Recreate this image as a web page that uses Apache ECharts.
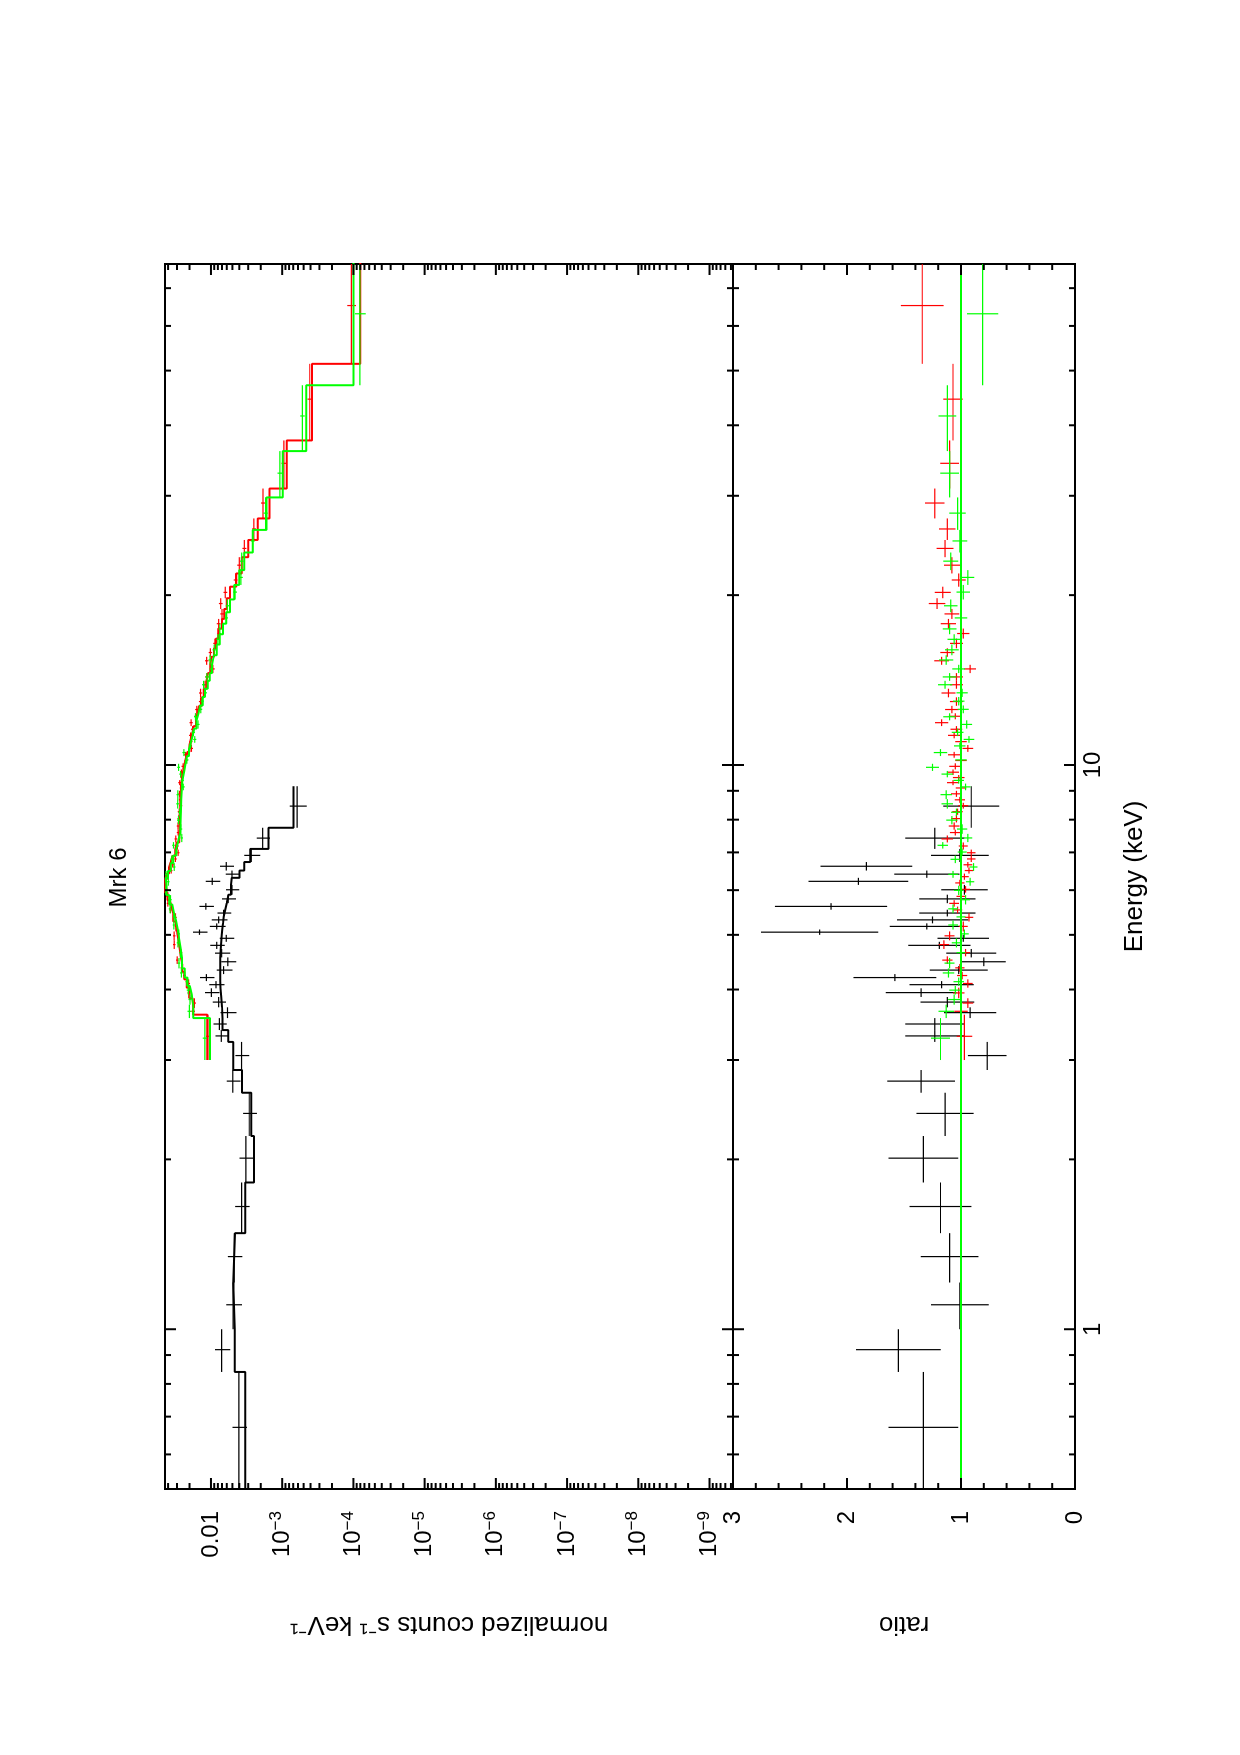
<!DOCTYPE html>
<html>
<head>
<meta charset="utf-8">
<title>Mrk 6</title>
<script src="https://cdn.jsdelivr.net/npm/echarts@6/dist/echarts.min.js"></script>
<style>
  html, body { margin: 0; padding: 0; background: #fff; overflow: hidden; }
  /* the XSPEC plot is landscape; it is drawn upright and turned onto the portrait page */
  #chart {
    position: absolute; left: 0; top: 0;
    width: 1755px; height: 1240px;
    transform-origin: 0 0;
    transform: translateY(1755px) rotate(-90deg);
  }
</style>
</head>
<body>
<div id="chart"></div>
<script>
// ---- axes ----
const E_MIN = 0.521, E_MAX = 77.25
const COUNTS_MIN = 4.68e-10, COUNTS_MAX = 0.0442
const RATIO_MIN = 0, RATIO_MAX = 3
const ratioUnity = 1

const energyLabels = [1, 10]
const energyMajor = [1, 10]
const energyMinor = [0.6, 0.7, 0.8, 0.9, 2, 3, 4, 5, 6, 7, 8, 9, 20, 30, 40, 50, 60, 70]
const countsMajor = [1e-2, 1e-3, 1e-4, 1e-5, 1e-6, 1e-7, 1e-8, 1e-9]
// [base, exponent] as printed by XSPEC
const countsLabels = [['0.01', ''], ['10', '−3'], ['10', '−4'], ['10', '−5'], ['10', '−6'], ['10', '−7'], ['10', '−8'], ['10', '−9']]
const countsDecades = [1e-10, 1e-9, 1e-8, 1e-7, 1e-6, 1e-5, 1e-4, 1e-3, 1e-2]
const minorSteps = [2, 3, 4, 5, 6, 7, 8, 9]
const ratioMajor = [0, 1, 2, 3]
const ratioMinor = [0.2, 0.4, 0.6, 0.8, 1.2, 1.4, 1.6, 1.8, 2.2, 2.4, 2.6, 2.8]

// ---- black spectrum (soft band) ----
const blackEdges = [0.5, 0.84, 1.0, 1.21, 1.48, 1.82, 2.2, 2.625, 2.88, 3.23, 3.39, 3.56, 3.72, 3.88,
  4.02, 4.14, 4.26, 4.40, 4.56, 4.72, 4.86, 5.00, 5.11, 5.24, 5.39, 5.54, 5.69, 5.89, 6.13, 6.31,
  6.5, 6.73, 7.1, 7.74, 9.17]
const blackFlux = [4.06e-3, 7.08e-3, 4.87e-3, 4.71e-3, 3.72e-3, 3.24e-3, 2.90e-3, 4.94e-3, 3.72e-3,
  7.16e-3, 7.62e-3, 5.86e-3, 7.8e-3, 9.87e-3, 8.5e-3, 1.16e-2, 6.65e-3, 5.8e-3, 7.08e-3, 8.3e-3,
  6.1e-3, 1.45e-2, 8.3e-3, 7.8e-3, 6.65e-3, 1.18e-2, 5.73e-3, 5.07e-3, 9.6e-3, 5.07e-3, 6.1e-3,
  2.72e-3, 1.88e-3, 6.18e-4]
const blackModel = [3.29e-3, 4.65e-3, 4.88e-3, 4.59e-3, 3.29e-3, 2.49e-3, 2.72e-3, 3.67e-3, 4.88e-3,
  5.73e-3, 6.9e-3, 7.0e-3, 7.2e-3, 7.33e-3, 7.38e-3, 7.4e-3, 7.4e-3, 7.4e-3, 7.3e-3, 7.2e-3,
  7.08e-3, 6.97e-3, 6.8e-3, 6.63e-3, 6.32e-3, 6.02e-3, 5.68e-3, 5.25e-3, 5.09e-3, 3.98e-3, 3.42e-3,
  2.81e-3, 1.56e-3, 6.93e-4]
const blackRatio = [1.33, 1.55, 1.01, 1.10, 1.18, 1.33, 1.14, 1.35, 0.77, 1.23, 1.23, 0.92, 1.12, 1.35,
  1.17, 1.58, 1.02, 0.80, 0.91, 1.19, 0.98, 2.24, 1.30, 1.25, 1.12, 2.14, 1.12, 0.97, 1.90, 1.30,
  1.83, 1.01, 1.23, 0.91]
const blackRelErr = [0.23, 0.24, 0.25, 0.23, 0.23, 0.23, 0.22, 0.22, 0.22, 0.21, 0.21, 0.25, 0.21, 0.23,
  0.24, 0.23, 0.25, 0.24, 0.24, 0.23, 0.23, 0.23, 0.25, 0.25, 0.22, 0.23, 0.22, 0.21, 0.23, 0.22,
  0.22, 0.25, 0.21, 0.27]

// ---- red spectrum (FPMA) ----
const redEdges = [3.0, 3.61, 3.71, 3.86, 4.03, 4.17, 4.30, 4.44, 4.58, 4.72, 4.89, 5.07, 5.28, 5.46,
  5.61, 5.76, 5.94, 6.10, 6.26, 6.42, 6.58, 6.73, 6.90, 7.08, 7.29, 7.50, 7.68, 7.91, 8.16, 8.37,
  8.57, 8.78, 9.00, 9.21, 9.40, 9.60, 9.82, 10.07, 10.3, 10.55, 10.85, 11.15, 11.42, 11.72, 12.05,
  12.35, 12.73, 13.18, 13.65, 14.1, 14.55, 15.05, 15.55, 16.1, 16.75, 17.45, 18.15, 18.9, 19.75,
  20.7, 21.85, 23.35, 25.05, 27.35, 30.9, 37.6, 51.4, 79.0]
const redFlux = [0.0110, 0.0178, 0.0171, 0.0204, 0.0206, 0.0235, 0.0257, 0.0298, 0.0264, 0.0328,
  0.0329, 0.0310, 0.0315, 0.0370, 0.0403, 0.0407, 0.0420, 0.0440, 0.0404, 0.0362, 0.0345, 0.0316,
  0.0289, 0.0296, 0.0312, 0.0289, 0.0290, 0.0283, 0.0279, 0.0264, 0.0271, 0.0276, 0.0263, 0.0275,
  0.0256, 0.0260, 0.0246, 0.0224, 0.0227, 0.0188, 0.0191, 0.0193, 0.0181, 0.0190, 0.0163, 0.0158,
  0.0140, 0.0140, 0.0121, 0.0114, 0.0094, 0.0115, 0.0102, 0.0088, 0.0077, 0.0078, 0.0070, 0.0073,
  0.0063, 0.0045, 0.0040, 0.0034, 0.0025, 0.00186, 0.00095, 0.00041, 0.000107]
const redModel = [0.0113, 0.0178, 0.0182, 0.0200, 0.0219, 0.0237, 0.0254, 0.0266, 0.0275, 0.0285,
  0.0299, 0.0316, 0.0339, 0.0359, 0.0380, 0.0407, 0.0437, 0.0440, 0.0417, 0.0389, 0.0367, 0.0347,
  0.0318, 0.0302, 0.0279, 0.0275, 0.0274, 0.0272, 0.0271, 0.0269, 0.0268, 0.0265, 0.0263, 0.0257,
  0.0251, 0.0243, 0.0234, 0.0224, 0.0214, 0.0200, 0.0191, 0.0182, 0.0174, 0.0162, 0.0155, 0.0146,
  0.0135, 0.0126, 0.0116, 0.0110, 0.0102, 0.0098, 0.0091, 0.0085, 0.0079, 0.0070, 0.0065, 0.0060,
  0.0054, 0.0044, 0.0037, 0.0030, 0.0022, 0.00151, 0.00086, 0.00038, 0.000080]
const redRatio = [0.97, 1.00, 0.94, 1.02, 0.94, 0.99, 1.01, 1.12, 0.96, 1.15, 1.10, 0.98, 0.93, 1.03,
  1.06, 1.00, 0.96, 1.01, 0.97, 0.93, 0.94, 0.91, 0.91, 0.98, 1.12, 1.05, 1.06, 1.04, 1.03, 0.98,
  1.01, 1.04, 1.00, 1.07, 1.02, 1.07, 1.05, 1.00, 1.06, 0.94, 1.00, 1.06, 1.04, 1.17, 1.05, 1.08,
  1.04, 1.11, 1.04, 1.04, 0.92, 1.17, 1.12, 1.04, 0.98, 1.11, 1.08, 1.21, 1.16, 1.02, 1.08, 1.14,
  1.12, 1.23, 1.10, 1.07, 1.34]
const redRelErr = [0.07, 0.06, 0.05, 0.05, 0.045, 0.045,
  0.04, 0.04, 0.04, 0.04, 0.04, 0.04, 0.04, 0.04, 0.04, 0.04, 0.04, 0.04, 0.04, 0.04, 0.04, 0.04, 0.04, 0.04,
  0.045, 0.045, 0.045, 0.045, 0.045, 0.045, 0.045, 0.045, 0.045,
  0.05, 0.05, 0.05, 0.05, 0.05, 0.05, 0.05, 0.05, 0.05, 0.05, 0.05,
  0.055, 0.055, 0.055, 0.055, 0.055, 0.055, 0.055, 0.055, 0.055, 0.055, 0.055,
  0.06, 0.06, 0.06, 0.06, 0.06, 0.065, 0.065, 0.065, 0.07, 0.075, 0.08, 0.14]

// ---- green spectrum (FPMB) ----
const greenEdges = [3.0, 3.56, 3.76, 3.92, 4.06, 4.20, 4.36, 4.55, 4.75, 4.93, 5.11, 5.30, 5.46, 5.66,
  5.88, 6.11, 6.31, 6.49, 6.7, 6.91, 7.11, 7.30, 7.55, 7.85, 8.12, 8.37, 8.7, 9.02, 9.27, 9.51, 9.76,
  10.05, 10.37, 10.67, 10.95, 11.25, 11.6, 12.0, 12.35, 12.75, 13.2, 13.65, 14.1, 14.55, 15.05,
  15.65, 16.35, 17.05, 17.8, 18.65, 19.65, 20.85, 22.15, 23.8, 26.1, 29.8, 36.0, 47.1, 79.0]
const greenFlux = [0.0122, 0.0201, 0.0197, 0.0208, 0.0218, 0.0260, 0.0281, 0.0268, 0.0291, 0.0283,
  0.0332, 0.0330, 0.0375, 0.0370, 0.0428, 0.0397, 0.0428, 0.0328, 0.0355, 0.0305, 0.0336, 0.0257,
  0.0265, 0.0286, 0.0275, 0.0293, 0.0292, 0.0245, 0.0252, 0.0267, 0.0285, 0.0218, 0.0240, 0.0194,
  0.0169, 0.0177, 0.0152, 0.0165, 0.0139, 0.0133, 0.0120, 0.0127, 0.0114, 0.0099, 0.0103, 0.0090,
  0.0080, 0.0075, 0.0061, 0.0059, 0.0046, 0.0038, 0.0037, 0.0026, 0.00171, 0.00108, 0.00052, 0.000081]
const greenModel = [0.0103, 0.0178, 0.0186, 0.0198, 0.0214, 0.0234, 0.0255, 0.0268, 0.0280, 0.0292,
  0.0310, 0.0330, 0.0350, 0.0385, 0.0420, 0.0432, 0.0400, 0.0368, 0.0338, 0.0308, 0.0290, 0.0273,
  0.0268, 0.0265, 0.0264, 0.0262, 0.0258, 0.0255, 0.0247, 0.0238, 0.0228, 0.0218, 0.0203, 0.0192,
  0.0182, 0.0172, 0.0160, 0.0150, 0.0142, 0.0130, 0.0121, 0.0111, 0.0104, 0.0097, 0.0091, 0.0083,
  0.0075, 0.0068, 0.0061, 0.0054, 0.0047, 0.0040, 0.0034, 0.0026, 0.00166, 0.00098, 0.00046, 0.000100]
const greenRatio = [1.18, 1.13, 1.06, 1.05, 1.02, 1.11, 1.10, 1.00, 1.04, 0.97, 1.07, 1.00, 1.07, 0.96,
  1.02, 0.92, 1.07, 0.89, 1.05, 0.99, 1.16, 0.94, 0.99, 1.08, 1.04, 1.12, 1.13, 0.96, 1.02, 1.12,
  1.25, 1.00, 1.18, 1.01, 0.93, 1.03, 0.95, 1.10, 0.98, 1.02, 0.99, 1.14, 1.10, 1.02, 1.13, 1.08,
  1.06, 1.10, 1.00, 1.09, 0.98, 0.94, 1.09, 1.01, 1.03, 1.10, 1.12, 0.81]
const greenRelErr = [0.07, 0.06, 0.05, 0.05, 0.045, 0.045,
  0.04, 0.04, 0.04, 0.04, 0.04, 0.04, 0.04, 0.04, 0.04, 0.04, 0.04, 0.04, 0.04, 0.04, 0.04, 0.04,
  0.045, 0.045, 0.045, 0.045, 0.045, 0.045, 0.045, 0.045, 0.045,
  0.05, 0.05, 0.05, 0.05, 0.05, 0.05, 0.05, 0.05, 0.05, 0.05,
  0.055, 0.055, 0.055, 0.055, 0.055, 0.055, 0.055, 0.055, 0.055,
  0.06, 0.06, 0.06, 0.065, 0.07, 0.075, 0.07, 0.17]

const FONT = '"Liberation Sans", Helvetica, Arial, sans-serif'
const BLACK = '#000000', RED = '#ff0000', GREEN = '#00ff00'

const countsMinor = []
countsDecades.forEach((d) => minorSteps.forEach((k) => countsMinor.push(d * k)))

// inward frame ticks on both sides of a panel
const tickSeries = (grid, dim, values, len) => {
  const ref = grid === 0 ? [1, 1e-5] : [1, ratioUnity]
  return {
    type: 'custom',
    xAxisIndex: grid,
    yAxisIndex: grid,
    silent: true,
    clip: false,
    z: 20,
    data: values.map((v) => (dim === 'x' ? [v, ref[1]] : [ref[0], v])),
    renderItem(params, api) {
      const cs = params.coordSys
      const p = api.coord([api.value(0), api.value(1)])
      const style = { stroke: BLACK, lineWidth: 2 }
      if (dim === 'x') {
        if (p[0] < cs.x - 0.5 || p[0] > cs.x + cs.width + 0.5) return null
        return {
          type: 'group',
          children: [
            { type: 'line', shape: { x1: p[0], y1: cs.y, x2: p[0], y2: cs.y + len }, style },
            { type: 'line', shape: { x1: p[0], y1: cs.y + cs.height, x2: p[0], y2: cs.y + cs.height - len }, style },
          ],
        }
      }
      if (p[1] < cs.y - 0.5 || p[1] > cs.y + cs.height + 0.5) return null
      return {
        type: 'group',
        children: [
          { type: 'line', shape: { x1: cs.x, y1: p[1], x2: cs.x + len, y2: p[1] }, style },
          { type: 'line', shape: { x1: cs.x + cs.width, y1: p[1], x2: cs.x + cs.width - len, y2: p[1] }, style },
        ],
      }
    },
  }
}

// data points: bin width across energy, error along the value axis
const crossSeries = (grid, color, edges, vals, relErr, z) => ({
  type: 'custom',
  xAxisIndex: grid,
  yAxisIndex: grid,
  silent: true,
  clip: true,
  z,
  data: vals.map((v, i) => [
    (edges[i] + edges[i + 1]) / 2, v, edges[i], edges[i + 1], v * (1 - relErr[i]), v * (1 + relErr[i]),
  ]),
  renderItem(params, api) {
    const c = api.coord([api.value(0), api.value(1)])
    const l = api.coord([api.value(2), api.value(1)])
    const r = api.coord([api.value(3), api.value(1)])
    const b = api.coord([api.value(0), api.value(4)])
    const t = api.coord([api.value(0), api.value(5)])
    const style = { stroke: color, lineWidth: 1.2 }
    return {
      type: 'group',
      children: [
        { type: 'line', shape: { x1: l[0], y1: c[1], x2: r[0], y2: c[1] }, style },
        { type: 'line', shape: { x1: c[0], y1: b[1], x2: c[0], y2: t[1] }, style },
      ],
    }
  },
})

// folded model as a histogram over the same bins
const stepLine = (color, edges, model, z) => {
  const pts = []
  model.forEach((m, i) => {
    pts.push([edges[i], m], [edges[i + 1], m])
  })
  return {
    type: 'line',
    xAxisIndex: 0,
    yAxisIndex: 0,
    data: pts,
    symbol: 'none',
    silent: true,
    clip: true,
    z,
    lineStyle: { color, width: 2 },
    itemStyle: { color },
  }
}

const labelStyle = { color: BLACK, fontSize: 24, fontFamily: FONT }
const nameStyle = { color: BLACK, fontSize: 26, fontFamily: FONT }
const hidden = { show: false }

const countsLabel = (v) => {
  const i = countsMajor.findIndex((c) => Math.abs(Math.log10(c) - Math.log10(v)) < 0.01)
  if (i < 0) return ''
  const [base, exp] = countsLabels[i]
  return exp ? `{base|${base}}{sup|${exp}}` : `{base|${base}}`
}

const option = {
  animation: false,
  backgroundColor: '#ffffff',
  title: {
    text: 'Mrk 6',
    left: 'center',
    top: 102,
    textStyle: { color: BLACK, fontSize: 24, fontWeight: 'normal', fontFamily: FONT },
  },
  grid: [
    { left: 266, right: 264, top: 165, height: 568, show: true, borderColor: BLACK, borderWidth: 2,
      backgroundColor: 'transparent', outerBoundsMode: 'none' },
    { left: 266, right: 264, top: 733, height: 342, show: true, borderColor: BLACK, borderWidth: 2,
      backgroundColor: 'transparent', outerBoundsMode: 'none' },
  ],
  xAxis: [
    {
      gridIndex: 0, type: 'log', min: E_MIN, max: E_MAX,
      axisLine: hidden, axisTick: hidden, axisLabel: hidden, splitLine: hidden,
    },
    {
      gridIndex: 1, type: 'log', min: E_MIN, max: E_MAX,
      axisLine: hidden, axisTick: hidden, splitLine: hidden,
      axisLabel: { ...labelStyle, customValues: energyLabels, margin: 6, formatter: (v) => String(Math.round(v)) },
      name: 'Energy (keV)', nameLocation: 'middle', nameGap: 47, nameTextStyle: nameStyle,
    },
  ],
  yAxis: [
    {
      gridIndex: 0, type: 'log', min: COUNTS_MIN, max: COUNTS_MAX,
      axisLine: hidden, axisTick: hidden, splitLine: hidden,
      axisLabel: {
        ...labelStyle,
        customValues: countsMajor,
        margin: 22,
        formatter: countsLabel,
        rich: {
          base: { fontSize: 24, fontFamily: FONT, color: BLACK, lineHeight: 28 },
          sup: { fontSize: 17, fontFamily: FONT, color: BLACK, verticalAlign: 'top', lineHeight: 18 },
        },
      },
      name: 'normalized counts s⁻¹ keV⁻¹', nameLocation: 'middle', nameRotate: 90, nameGap: 122,
      nameTextStyle: nameStyle,
    },
    {
      gridIndex: 1, type: 'value', min: RATIO_MIN, max: RATIO_MAX, interval: 1,
      axisLine: hidden, axisTick: hidden, splitLine: hidden,
      axisLabel: { ...labelStyle, margin: 22 },
      name: 'ratio', nameLocation: 'middle', nameRotate: 90, nameGap: 122, nameTextStyle: nameStyle,
    },
  ],
  series: [
    crossSeries(0, BLACK, blackEdges, blackFlux, blackRelErr, 2),
    stepLine(BLACK, blackEdges, blackModel, 3),
    crossSeries(0, RED, redEdges, redFlux, redRelErr, 4),
    stepLine(RED, redEdges, redModel, 5),
    crossSeries(0, GREEN, greenEdges, greenFlux, greenRelErr, 6),
    stepLine(GREEN, greenEdges, greenModel, 7),

    crossSeries(1, BLACK, blackEdges, blackRatio, blackRelErr, 2),
    crossSeries(1, RED, redEdges, redRatio, redRelErr, 4),
    crossSeries(1, GREEN, greenEdges, greenRatio, greenRelErr, 6),
    {
      type: 'line', xAxisIndex: 1, yAxisIndex: 1, silent: true, symbol: 'none', z: 7,
      data: [[E_MIN, ratioUnity], [E_MAX, ratioUnity]],
      lineStyle: { color: GREEN, width: 2 },
    },

    tickSeries(0, 'x', energyMajor, 11),
    tickSeries(0, 'x', energyMinor, 6),
    tickSeries(1, 'x', energyMajor, 11),
    tickSeries(1, 'x', energyMinor, 6),
    tickSeries(0, 'y', countsMajor, 11),
    tickSeries(0, 'y', countsMinor, 6),
    tickSeries(1, 'y', ratioMajor, 11),
    tickSeries(1, 'y', ratioMinor, 6),
  ],
}

const chart = echarts.init(document.getElementById('chart'))
chart.setOption(option)
</script>
</body>
</html>
